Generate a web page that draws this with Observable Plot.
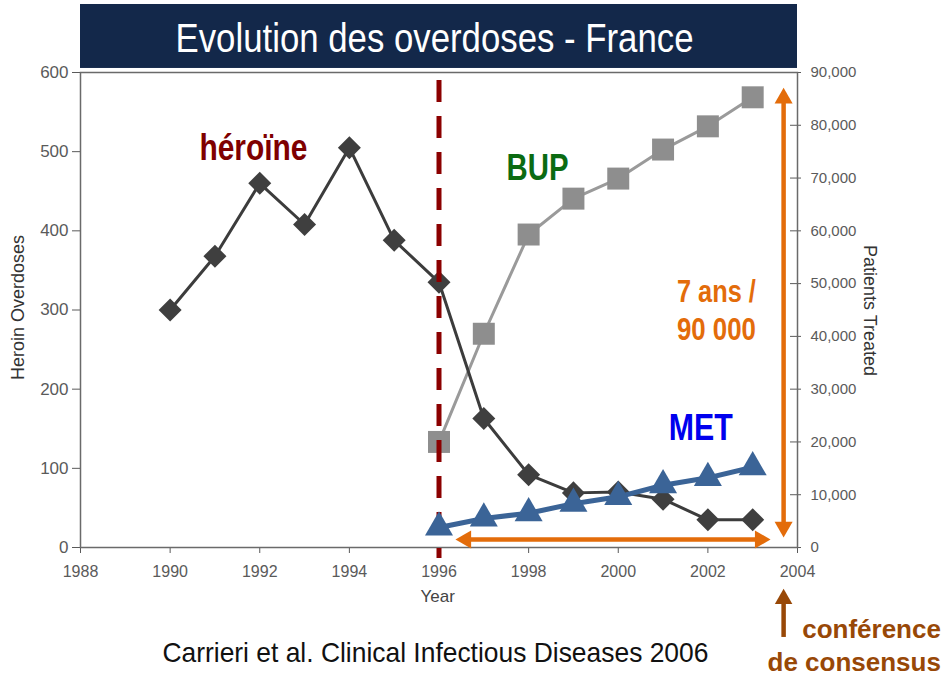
<!DOCTYPE html>
<html>
<head>
<meta charset="utf-8">
<script src="https://cdn.jsdelivr.net/npm/d3@7"></script>
<script src="https://cdn.jsdelivr.net/npm/@observablehq/plot@0.6"></script>
<style>
  body { margin: 0; background: #ffffff; }
</style>
</head>
<body>
<div id="chart"></div>
<script>
// ---- Data ----
const heroinYears = [1990, 1991, 1992, 1993, 1994, 1995, 1996, 1997, 1998, 1999, 2000, 2001, 2002, 2003];
const heroinOverdoses = [300, 368, 460, 408, 505, 388, 335, 163, 92, 69, 70, 61, 35, 35];

const treatYears = [1996, 1997, 1998, 1999, 2000, 2001, 2002, 2003];
const bupPatients = [20000, 40500, 59300, 66100, 69900, 75400, 79800, 85300];
const metPatients = [3800, 5500, 6500, 8300, 9600, 11800, 13200, 15200];

const xTicks = [1988, 1990, 1992, 1994, 1996, 1998, 2000, 2002, 2004];
const leftTicks = [0, 100, 200, 300, 400, 500, 600];
const rightTicks = [0, 10000, 20000, 30000, 40000, 50000, 60000, 70000, 80000, 90000];

const titleText = "Evolution des overdoses - France";
const captionText = "Carrieri et al. Clinical Infectious Diseases 2006";
const labelHeroin = "héroïne";
const labelBup = "BUP";
const labelMet = "MET";
const labelSpan = ["7 ans /", "90 000"];
const labelConf = ["conférence", "de consensus"];

// patients axis (0–90,000) shares the overdose scale (0–600)
const RATIO = 90000 / 600;

const heroin = heroinYears.map((year, i) => ({year, value: heroinOverdoses[i]}));
const bup = treatYears.map((year, i) => ({year, value: bupPatients[i] / RATIO}));
const met = treatYears.map((year, i) => ({year, value: metPatients[i] / RATIO}));

const NARROW = "'Liberation Sans Narrow', 'Arial Narrow', 'Liberation Sans', Arial, sans-serif";
const ORANGE = "#e36c0a";
const BROWN = "#984807";
const AX = "#5a5a5a";

// condensed (Arial Narrow–like) text widths, applied with textLength
const narrowWidths = new Map([
  [titleText, 518], [captionText, 546], [labelHeroin, 108], [labelBup, 62], [labelMet, 64],
  [labelSpan[0], 79], [labelSpan[1], 79]
]);

const plot = Plot.plot({
  width: 947,
  height: 682,
  marginLeft: 80,
  marginRight: 150,
  marginTop: 72,
  marginBottom: 135,
  x: {domain: [1988, 2004]},
  y: {domain: [0, 600]},
  style: {fontFamily: "'Liberation Sans', Arial, sans-serif", background: "white", overflow: "visible"},
  marks: [
    // title banner
    Plot.rect([0], {x1: 1988, x2: 2004, y1: 605.1, y2: 685.9, fill: "#13284a"}),
    Plot.text([titleText], {text: d => d, x: 1995.9, y: 626.5, lineAnchor: "bottom", fontSize: 40, fontFamily: NARROW, fill: "white"}),

    // axes
    Plot.axisY({anchor: "left", ticks: leftTicks, tickSize: 8, tickPadding: 4, fontSize: 17, color: AX, label: null}),
    Plot.axisY({anchor: "right", ticks: rightTicks.map(v => v / RATIO),
      tickFormat: d => d3.format(",")(Math.round(d * RATIO)),
      tickSize: 3, tickPadding: 10, fontSize: 15, color: AX, label: null}),
    Plot.ruleY(rightTicks.map(v => v / RATIO), {x1: 2003.844, x2: 2004, stroke: AX}),
    Plot.axisX({ticks: xTicks, tickFormat: d => String(d), tickSize: 6, tickPadding: 12, fontSize: 16, color: AX, label: null}),
    Plot.frame({stroke: "#6a6a6a", strokeWidth: 1.5}),
    Plot.text(["Heroin Overdoses"], {text: d => d, x: 1988, y: 303.2, dx: -62, rotate: -90, fontSize: 18, fill: "#333"}),
    Plot.text(["Patients Treated"], {text: d => d, x: 2005.61, y: 299.4, rotate: 90, fontSize: 18, fill: "#333"}),
    Plot.text(["Year"], {text: d => d, x: 1995.97, y: -61.9, fontSize: 17, fill: "#444"}),

    // BUP (patients, right scale)
    Plot.line(bup, {x: "year", y: "value", stroke: "#9a9a9a", strokeWidth: 3}),
    Plot.dot(bup, {x: "year", y: "value", symbol: "square", r: 12.4, fill: "#8e8e8e"}),

    // heroin overdoses
    Plot.line(heroin, {x: "year", y: "value", stroke: "#3c3c3c", strokeWidth: 3}),
    Plot.dot(heroin, {x: "year", y: "value", symbol: "square", rotate: 45, r: 9.2, fill: "#3f3f3f"}),

    // 1996 dashed marker
    Plot.ruleX([1996], {y1: 589.9, y2: -14, stroke: "#8b0000", strokeWidth: 5, strokeDasharray: "22,14"}),

    // MET (patients, right scale)
    Plot.line(met, {x: "year", y: "value", stroke: "#3b6497", strokeWidth: 5}),
    Plot.dot(met, {x: "year", y: "value", symbol: "triangle", r: 10.4, fill: "#3b6497"}),

    // series labels
    Plot.text([labelHeroin], {text: d => d, x: 1991.86, y: 490.1, lineAnchor: "bottom", fontSize: 36, fontWeight: "bold", fontFamily: NARROW, fill: "#7f0000"}),
    Plot.text([labelBup], {text: d => d, x: 1998.2, y: 464.8, lineAnchor: "bottom", fontSize: 36, fontWeight: "bold", fontFamily: NARROW, fill: "#0b6b12"}),
    Plot.text([labelMet], {text: d => d, x: 2001.84, y: 136.4, lineAnchor: "bottom", fontSize: 36, fontWeight: "bold", fontFamily: NARROW, fill: "#0000ee"}),
    Plot.text([labelSpan[0]], {text: d => d, x: 2002.19, y: 309.5, lineAnchor: "bottom", fontSize: 31, fontWeight: "bold", fontFamily: NARROW, fill: ORANGE}),
    Plot.text([labelSpan[1]], {text: d => d, x: 2002.19, y: 262.7, lineAnchor: "bottom", fontSize: 31, fontWeight: "bold", fontFamily: NARROW, fill: ORANGE}),

    // orange double arrows
    Plot.link([0], {x1: 2003.69, x2: 2003.69, y1: 570.9, y2: 21.5, stroke: ORANGE, strokeWidth: 4.5}),
    Plot.dot([0], {x: 2003.69, y: 567.5, symbol: "triangle", r: 6.7, fill: ORANGE}),
    Plot.dot([0], {x: 2003.69, y: 25.8, symbol: "triangle", rotate: 180, r: 6.7, fill: ORANGE}),
    Plot.link([0], {x1: 1996.48, x2: 2003.29, y1: 10.1, y2: 10.1, stroke: ORANGE, strokeWidth: 4.5}),
    Plot.dot([0], {x: 1996.60, y: 10.1, symbol: "triangle", rotate: -90, r: 6.7, fill: ORANGE}),
    Plot.dot([0], {x: 2003.166, y: 10.1, symbol: "triangle", rotate: 90, r: 6.7, fill: ORANGE}),

    // consensus conference arrow + label
    Plot.link([0], {x1: 2003.69, x2: 2003.69, y1: -60.6, y2: -113, stroke: BROWN, strokeWidth: 4.5}),
    Plot.dot([0], {x: 2003.69, y: -64.9, symbol: "triangle", r: 6.5, fill: BROWN}),
    Plot.text([labelConf[0]], {text: d => d, x: 2007.2, y: -114.9, lineAnchor: "bottom", textAnchor: "end", fontSize: 26, fontWeight: "bold", fill: BROWN}),
    Plot.text([labelConf[1]], {text: d => d, x: 2007.2, y: -155.4, lineAnchor: "bottom", textAnchor: "end", fontSize: 26, fontWeight: "bold", fill: BROWN}),

    // source caption
    Plot.text([captionText], {text: d => d, x: 1995.92, y: -144, lineAnchor: "bottom", fontSize: 28, fontFamily: NARROW, fill: "#111"})
  ]
});

// emulate the condensed face of the original (no narrow font installed)
d3.select(plot).selectAll("text").each(function() {
  const w = narrowWidths.get(this.textContent);
  if (w) {
    this.setAttribute("textLength", w);
    this.setAttribute("lengthAdjust", "spacingAndGlyphs");
  }
});

document.getElementById("chart").appendChild(plot);
</script>
</body>
</html>
